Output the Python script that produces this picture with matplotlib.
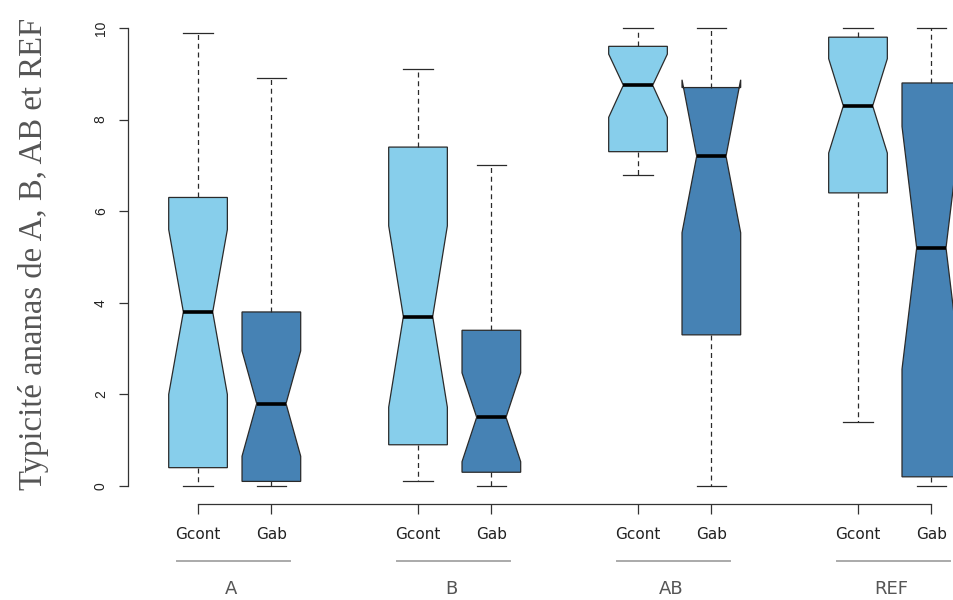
import matplotlib
matplotlib.use("Agg")
import matplotlib.pyplot as plt

# ---- data ----
groups = ["A", "B", "AB", "REF"]
subgroups = ["Gcont", "Gab"]
positions = [1, 2, 4, 5, 7, 8, 10, 11]
whislo = [0.0, 0.0, 0.1, 0.0, 6.8, 0.0, 1.4, 0.0]
q1     = [0.4, 0.1, 0.9, 0.3, 7.3, 3.3, 6.4, 0.2]
med    = [3.8, 1.8, 3.7, 1.5, 8.75, 7.2, 8.3, 5.2]
q3     = [6.3, 3.8, 7.4, 3.4, 9.6, 8.7, 9.8, 8.8]
whishi = [9.9, 8.9, 9.1, 7.0, 10.0, 10.0, 10.0, 10.0]
cilo   = [2.0, 0.65, 1.72, 0.53, 8.05, 5.53, 7.27, 2.55]
cihi   = [5.6, 2.95, 5.68, 2.47, 9.43, 8.87, 9.33, 7.85]
colors = ["#87CEEB", "#4682B4"] * 4
yticks = [0, 2, 4, 6, 8, 10]
ylabel = "Typicité ananas de A, B, AB et REF"

fig = plt.figure(figsize=(9.54, 6.0), dpi=100)
W, H = 954, 600
# axes placement in pixels (right part is clipped, as in the reference)
ax = fig.add_axes([128 / W, 1 - 504.3 / H, 873 / W, (504.3 - 9.7) / H])
ax.set_xlim(0.045, 11.95)
ax.set_ylim(-0.4, 10.4)

stats = []
for i in range(len(positions)):
    stats.append(dict(med=med[i], q1=q1[i], q3=q3[i], whislo=whislo[i],
                      whishi=whishi[i], cilo=cilo[i], cihi=cihi[i], fliers=[]))

bp = ax.bxp(stats, positions=positions, widths=0.8, shownotches=True,
            patch_artist=True, showfliers=False,
            boxprops=dict(edgecolor="#2a2a2a", linewidth=0.9),
            medianprops=dict(color="black", linewidth=2.6, solid_capstyle="butt"),
            whiskerprops=dict(color="#2a2a2a", linewidth=0.9, linestyle=(0, (4, 3))),
            capprops=dict(color="#2a2a2a", linewidth=0.9),
            manage_ticks=False)
for patch, c in zip(bp["boxes"], colors):
    patch.set_facecolor(c)

# axes styling
for s in ["top", "right"]:
    ax.spines[s].set_visible(False)
ax.spines["left"].set_bounds(0, 10)
ax.spines["bottom"].set_bounds(positions[0], positions[-1])
for s in ["left", "bottom"]:
    ax.spines[s].set_color("#333333")
    ax.spines[s].set_linewidth(0.9)

ax.set_yticks(yticks)
ax.set_yticklabels([str(v) for v in yticks], rotation=90, va="center",
                   fontsize=10, color="#222222", family="Liberation Sans")
ax.tick_params(axis="y", length=6.5, width=0.9, color="#333333", pad=8)

ax.set_xticks(positions)
ax.set_xticklabels(subgroups * 4, fontsize=11, color="#222222")
ax.tick_params(axis="x", length=7, width=0.9, color="#333333", pad=9.5)

# group labels with grey lines
for g, name in enumerate(groups):
    p1, p2 = positions[2 * g], positions[2 * g + 1]
    ax.plot([p1 - 0.29, p2 + 0.25], [-1.64, -1.64], color="#aaaaaa",
            linewidth=1.4, clip_on=False)
    ax.text((p1 + p2) / 2 - 0.05, -2.25, name, ha="center", va="center",
            fontsize=13, color="#555555", clip_on=False)

fig.text(34 / W, 1 - 254 / H, ylabel, rotation=90, ha="center", va="center",
         fontsize=23.6, color="#555555", family="Liberation Serif")

fig.savefig("out.png", dpi=100)
